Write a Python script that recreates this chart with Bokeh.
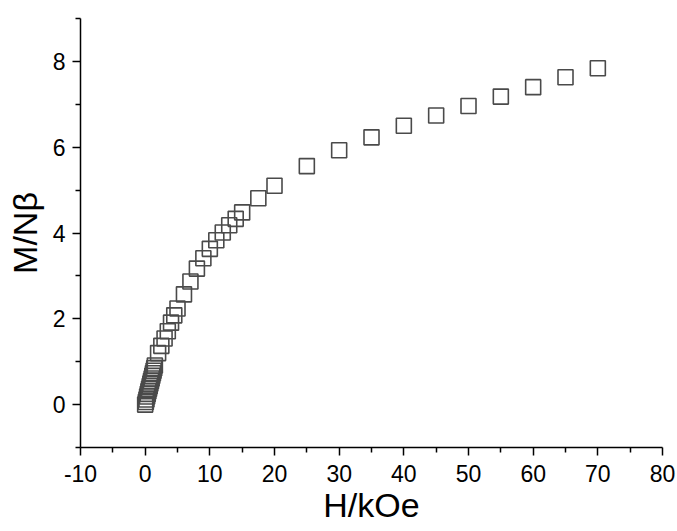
from bokeh.plotting import figure
from bokeh.models import Range1d, FixedTicker
from bokeh.embed import file_html
from bokeh.resources import INLINE

# Field H (kOe) and reduced magnetisation M/Nβ
H = [0.0, 0.1, 0.2, 0.3, 0.4, 0.5, 0.6, 0.7, 0.8, 0.9, 1.0, 1.1, 1.2, 1.3, 1.4, 1.5,
     2.0, 2.5, 3.0, 3.5, 4.0, 4.5, 5.0, 6.0, 7.0, 8.0, 9.0, 10.0, 11.0, 12.0, 13.0,
     14.0, 15.0, 17.5, 20.0, 25.0, 30.0, 35.0, 40.0, 45.0, 50.0, 55.0, 60.0, 65.0, 70.0]
M = [0.00, 0.06, 0.12, 0.19, 0.25, 0.31, 0.37, 0.43, 0.49, 0.55, 0.61, 0.67, 0.73, 0.79, 0.85, 0.91,
     1.20, 1.37, 1.54, 1.71, 1.91, 2.08, 2.24, 2.57, 2.87, 3.17, 3.41, 3.63, 3.83, 4.01, 4.18,
     4.33, 4.48, 4.81, 5.10, 5.56, 5.93, 6.23, 6.50, 6.74, 6.96, 7.18, 7.40, 7.63, 7.84]

x_ticks = [-10, 0, 10, 20, 30, 40, 50, 60, 70, 80]
x_labels = ["-10", "0", "10", "20", "30", "40", "50", "60", "70", "80"]
x_minor = [-5, 5, 15, 25, 35, 45, 55, 65, 75]
y_ticks = [0, 2, 4, 6, 8]
y_labels = ["0", "2", "4", "6", "8"]
y_minor = [-1, 1, 3, 5, 7, 9]

p = figure(width=677, height=531, output_backend="svg", toolbar_location=None,
           x_range=Range1d(-10, 80), y_range=Range1d(-1, 9),
           min_border_left=80, min_border_right=15, min_border_top=18, min_border_bottom=84)
p.outline_line_color = None
p.background_fill_color = "white"
p.border_fill_color = "white"
p.grid.visible = False

p.scatter(H, M, marker="square", size=15, fill_color=None,
          line_color="#4a4a4a", line_width=1.6)

for ax in (p.xaxis[0], p.yaxis[0]):
    ax.axis_line_color = "black"
    ax.axis_line_width = 1.5
    ax.major_tick_line_color = "black"
    ax.minor_tick_line_color = "black"
    ax.major_tick_line_width = 1.5
    ax.minor_tick_line_width = 1.5
    ax.major_tick_in = 0
    ax.major_tick_out = 8
    ax.minor_tick_in = 0
    ax.minor_tick_out = 5
    ax.major_label_text_font = "Liberation Sans"
    ax.major_label_text_font_size = "23px"
    ax.major_label_text_color = "black"
    ax.axis_label_text_font = "Liberation Sans"
    ax.axis_label_text_font_size = "34px"
    ax.axis_label_text_font_style = "normal"
    ax.axis_label_text_color = "black"

p.xaxis.ticker = FixedTicker(ticks=x_ticks, minor_ticks=x_minor)
p.yaxis.ticker = FixedTicker(ticks=y_ticks, minor_ticks=y_minor)
p.xaxis.major_label_overrides = dict(zip(x_ticks, x_labels))
p.yaxis.major_label_overrides = dict(zip(y_ticks, y_labels))
p.xaxis.axis_label = "H/kOe"
p.yaxis.axis_label = "M/Nβ"
p.xaxis.major_label_standoff = 9
p.yaxis.major_label_standoff = 7
p.xaxis.axis_label_standoff = 1
p.yaxis.axis_label_standoff = 6

open("out.html", "w").write(file_html(p, INLINE))
